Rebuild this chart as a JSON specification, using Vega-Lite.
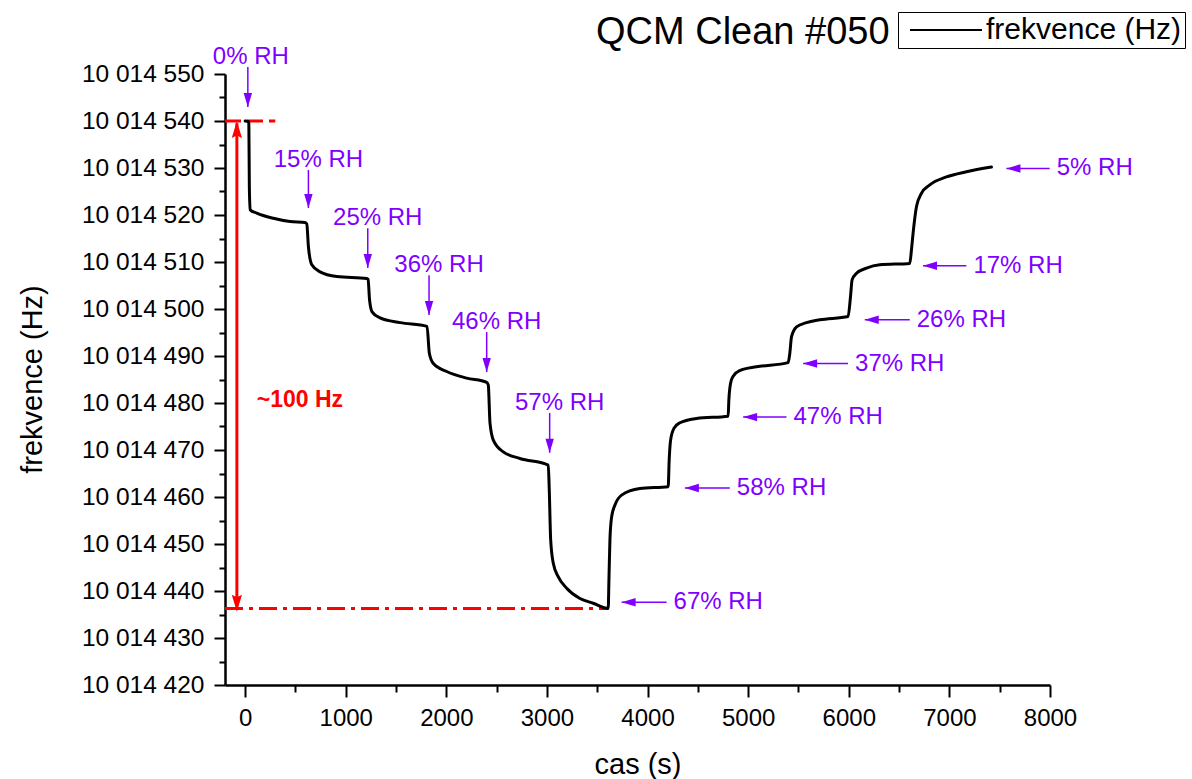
{
  "$schema": "https://vega.github.io/schema/vega-lite/v6.json",
  "width": 825,
  "height": 611,
  "autosize": {"type": "none"},
  "padding": {"left": 225, "top": 74, "right": 142, "bottom": 94},
  "background": "white",
  "title": {"text": "QCM Clean #050", "anchor": "start", "frame": "group", "dx": 371, "dy": 72, "offset": 2, "fontSize": 38, "fontWeight": "normal", "color": "black", "baseline": "alphabetic", "font": "Liberation Sans"},
  "config": {"font": "Liberation Sans", "view": {"stroke": null}},
  "datasets": {
    "curve": [
      {"x": 0, "y": 10014540.0},
      {"x": 30, "y": 10014539.9},
      {"x": 37, "y": 10014539.5},
      {"x": 42, "y": 10014526.0},
      {"x": 50, "y": 10014521.1},
      {"x": 116, "y": 10014520.4},
      {"x": 281, "y": 10014519.3},
      {"x": 447, "y": 10014518.6},
      {"x": 596, "y": 10014518.4},
      {"x": 613, "y": 10014518.1},
      {"x": 629, "y": 10014513.3},
      {"x": 663, "y": 10014509.4},
      {"x": 745, "y": 10014507.9},
      {"x": 911, "y": 10014506.9},
      {"x": 1209, "y": 10014506.5},
      {"x": 1222, "y": 10014506.3},
      {"x": 1237, "y": 10014501.9},
      {"x": 1262, "y": 10014499.4},
      {"x": 1341, "y": 10014498.1},
      {"x": 1540, "y": 10014497.1},
      {"x": 1808, "y": 10014496.3},
      {"x": 1831, "y": 10014490.6},
      {"x": 1871, "y": 10014488.4},
      {"x": 2004, "y": 10014486.7},
      {"x": 2202, "y": 10014485.3},
      {"x": 2401, "y": 10014484.4},
      {"x": 2417, "y": 10014483.8},
      {"x": 2434, "y": 10014475.7},
      {"x": 2467, "y": 10014472.1},
      {"x": 2566, "y": 10014469.6},
      {"x": 2732, "y": 10014468.2},
      {"x": 3013, "y": 10014466.8},
      {"x": 3023, "y": 10014461.5},
      {"x": 3037, "y": 10014450.9},
      {"x": 3063, "y": 10014445.9},
      {"x": 3113, "y": 10014443.0},
      {"x": 3196, "y": 10014440.6},
      {"x": 3328, "y": 10014438.4},
      {"x": 3460, "y": 10014437.4},
      {"x": 3609, "y": 10014436.3},
      {"x": 3616, "y": 10014442.3},
      {"x": 3626, "y": 10014450.9},
      {"x": 3643, "y": 10014455.8},
      {"x": 3676, "y": 10014458.3},
      {"x": 3742, "y": 10014460.4},
      {"x": 3924, "y": 10014461.8},
      {"x": 4205, "y": 10014462.2},
      {"x": 4215, "y": 10014467.9},
      {"x": 4229, "y": 10014472.1},
      {"x": 4262, "y": 10014474.6},
      {"x": 4322, "y": 10014475.8},
      {"x": 4487, "y": 10014476.7},
      {"x": 4801, "y": 10014477.2},
      {"x": 4808, "y": 10014480.6},
      {"x": 4825, "y": 10014484.2},
      {"x": 4851, "y": 10014485.7},
      {"x": 4917, "y": 10014486.9},
      {"x": 5083, "y": 10014487.7},
      {"x": 5397, "y": 10014488.6},
      {"x": 5414, "y": 10014490.6},
      {"x": 5431, "y": 10014494.1},
      {"x": 5481, "y": 10014496.2},
      {"x": 5580, "y": 10014497.1},
      {"x": 5712, "y": 10014497.7},
      {"x": 5993, "y": 10014498.4},
      {"x": 6017, "y": 10014502.6},
      {"x": 6033, "y": 10014506.2},
      {"x": 6077, "y": 10014507.6},
      {"x": 6176, "y": 10014508.7},
      {"x": 6308, "y": 10014509.4},
      {"x": 6606, "y": 10014509.7},
      {"x": 6623, "y": 10014512.6},
      {"x": 6639, "y": 10014516.1},
      {"x": 6673, "y": 10014521.8},
      {"x": 6722, "y": 10014524.6},
      {"x": 6805, "y": 10014526.4},
      {"x": 6971, "y": 10014528.1},
      {"x": 7169, "y": 10014529.2},
      {"x": 7418, "y": 10014530.2}
    ],
    "downArrows": [
      {"label": "0% RH", "x": 27, "y": 10014551.5, "y2": 10014543.0},
      {"label": "15% RH", "x": 629, "y": 10014529.6, "y2": 10014521.5},
      {"label": "25% RH", "x": 1219, "y": 10014517.2, "y2": 10014508.7},
      {"label": "36% RH", "x": 1828, "y": 10014507.2, "y2": 10014498.7},
      {"label": "46% RH", "x": 2401, "y": 10014495.1, "y2": 10014486.6},
      {"label": "57% RH", "x": 3027, "y": 10014477.9, "y2": 10014469.4}
    ],
    "leftArrows": [
      {"label": "67% RH", "x": 3742, "x2": 4189, "y": 10014437.6},
      {"label": "58% RH", "x": 4371, "x2": 4818, "y": 10014461.9},
      {"label": "47% RH", "x": 4950, "x2": 5381, "y": 10014477.0},
      {"label": "37% RH", "x": 5546, "x2": 5993, "y": 10014488.4},
      {"label": "26% RH", "x": 6159, "x2": 6606, "y": 10014497.7},
      {"label": "17% RH", "x": 6738, "x2": 7169, "y": 10014509.2},
      {"label": "5% RH", "x": 7567, "x2": 7997, "y": 10014529.9}
    ]
  },
  "encoding": {
    "x": {
      "field": "x", "type": "quantitative",
      "scale": {"domain": [-200, 8000], "nice": false, "zero": false},
      "axis": {
        "title": "cas (s)",
        "values": [0, 500, 1000, 1500, 2000, 2500, 3000, 3500, 4000, 4500, 5000, 5500, 6000, 6500, 7000, 7500, 8000],
        "format": "d",
        "labelExpr": "datum.value % 1000 === 0 ? datum.label : ''",
        "tickSize": {"condition": {"test": "datum.value % 1000 === 0", "value": 12}, "value": 7},
        "tickWidth": 2, "tickColor": "black",
        "domainColor": "black", "domainWidth": 2.5,
        "labelFontSize": 24, "labelColor": "black", "labelPadding": 9,
        "labelFlush": false, "labelOverlap": false, "grid": false,
        "titleFontSize": 29, "titleFontWeight": "normal", "titleColor": "black",
        "titleBaseline": "alphabetic", "titleY": 88
      }
    },
    "y": {
      "field": "y", "type": "quantitative",
      "scale": {"domain": [10014420, 10014550], "nice": false, "zero": false},
      "axis": {
        "title": "frekvence (Hz)",
        "values": [10014420, 10014425, 10014430, 10014435, 10014440, 10014445, 10014450, 10014455, 10014460, 10014465, 10014470, 10014475, 10014480, 10014485, 10014490, 10014495, 10014500, 10014505, 10014510, 10014515, 10014520, 10014525, 10014530, 10014535, 10014540, 10014545, 10014550],
        "labelExpr": "datum.value % 10 === 0 ? replace(replace(format(datum.value, ','), ',', ' '), ',', ' ') : ''",
        "tickSize": {"condition": {"test": "datum.value % 10 === 0", "value": 11}, "value": 6},
        "tickWidth": 2, "tickColor": "black",
        "domainColor": "black", "domainWidth": 2.5,
        "labelFontSize": 24.5, "labelColor": "black", "labelPadding": 10,
        "labelFlush": false, "labelOverlap": false, "grid": false,
        "titleFontSize": 29, "titleFontWeight": "normal", "titleColor": "black",
        "titleBaseline": "alphabetic", "titleX": -184, "titleY": 305, "titleAngle": -90
      }
    }
  },
  "layer": [
    {
      "data": {"values": [{"x": -200, "x2": 300, "y": 10014540}]},
      "mark": {"type": "rule", "color": "#ff0000", "strokeWidth": 3, "strokeDash": [16, 6]},
      "encoding": {"x2": {"field": "x2"}}
    },
    {
      "data": {"values": [{"x": -200, "x2": 3609, "y": 10014436.3}]},
      "mark": {"type": "rule", "color": "#ff0000", "strokeWidth": 3, "strokeDash": [18, 6, 4, 6]},
      "encoding": {"x2": {"field": "x2"}}
    },
    {
      "data": {"name": "curve"},
      "mark": {"type": "line", "interpolate": "monotone", "strokeWidth": 3, "strokeJoin": "round", "strokeCap": "round"},
      "encoding": {
        "color": {
          "datum": "frekvence (Hz)", "type": "nominal",
          "scale": {"range": ["black"]},
          "legend": {
            "orient": "none", "legendX": 673, "legendY": -62, "title": null,
            "strokeColor": "black", "fillColor": "white", "padding": 3,
            "symbolType": "M-4,0H4", "symbolSize": 324, "symbolStrokeWidth": 2,
            "symbolOffset": 30, "labelOffset": 25, "labelLimit": 400,
            "labelFontSize": 30, "labelFont": "Liberation Sans", "labelColor": "black"
          }
        }
      }
    },
    {
      "data": {"values": [{"x": -82, "y": 10014436.8, "y2": 10014539.5}]},
      "mark": {"type": "rule", "color": "#ff0000", "strokeWidth": 3},
      "encoding": {"y2": {"field": "y2"}}
    },
    {
      "data": {"values": [{"x": -82, "y": 10014540}]},
      "mark": {"type": "point", "shape": "M0,0L-0.6,2L0,1.7L0.6,2Z", "size": 289, "filled": true, "color": "#ff0000", "opacity": 1, "strokeWidth": 0}
    },
    {
      "data": {"values": [{"x": -82, "y": 10014435.6}]},
      "mark": {"type": "point", "shape": "M0,0L-0.6,-2L0,-1.7L0.6,-2Z", "size": 289, "filled": true, "color": "#ff0000", "opacity": 1, "strokeWidth": 0}
    },
    {
      "data": {"values": [{"x": 116, "y": 10014480.6, "label": "~100 Hz"}]},
      "mark": {"type": "text", "align": "left", "baseline": "middle", "fontSize": 23, "fontWeight": "bold", "color": "#ff0000"},
      "encoding": {"text": {"field": "label"}}
    },
    {
      "data": {"name": "downArrows"},
      "mark": {"type": "rule", "color": "#8000ff", "strokeWidth": 1.5},
      "encoding": {"y2": {"field": "y2"}}
    },
    {
      "data": {"name": "downArrows"},
      "mark": {"type": "point", "shape": "M-0.6,-2L0.6,-2L0,0Z", "size": 196, "filled": true, "color": "#8000ff", "opacity": 1, "strokeWidth": 0},
      "encoding": {"y": {"field": "y2", "type": "quantitative"}}
    },
    {
      "data": {"name": "downArrows"},
      "transform": [{"filter": "datum.label !== '0% RH'"}],
      "mark": {"type": "text", "align": "center", "baseline": "alphabetic", "dx": 10, "dy": -3, "fontSize": 24, "color": "#8000ff"},
      "encoding": {"text": {"field": "label"}}
    },
    {
      "data": {"name": "downArrows"},
      "transform": [{"filter": "datum.label === '0% RH'"}],
      "mark": {"type": "text", "align": "center", "baseline": "alphabetic", "dx": 3, "dy": -3, "fontSize": 24, "color": "#8000ff"},
      "encoding": {"text": {"field": "label"}}
    },
    {
      "data": {"name": "leftArrows"},
      "mark": {"type": "rule", "color": "#8000ff", "strokeWidth": 1.5},
      "encoding": {"x2": {"field": "x2"}}
    },
    {
      "data": {"name": "leftArrows"},
      "mark": {"type": "point", "shape": "M0,0L2,-0.6L2,0.6Z", "size": 196, "filled": true, "color": "#8000ff", "opacity": 1, "strokeWidth": 0}
    },
    {
      "data": {"name": "leftArrows"},
      "mark": {"type": "text", "align": "left", "baseline": "middle", "dx": 7, "fontSize": 24, "color": "#8000ff"},
      "encoding": {"x": {"field": "x2", "type": "quantitative"}, "text": {"field": "label"}}
    }
  ]
}
